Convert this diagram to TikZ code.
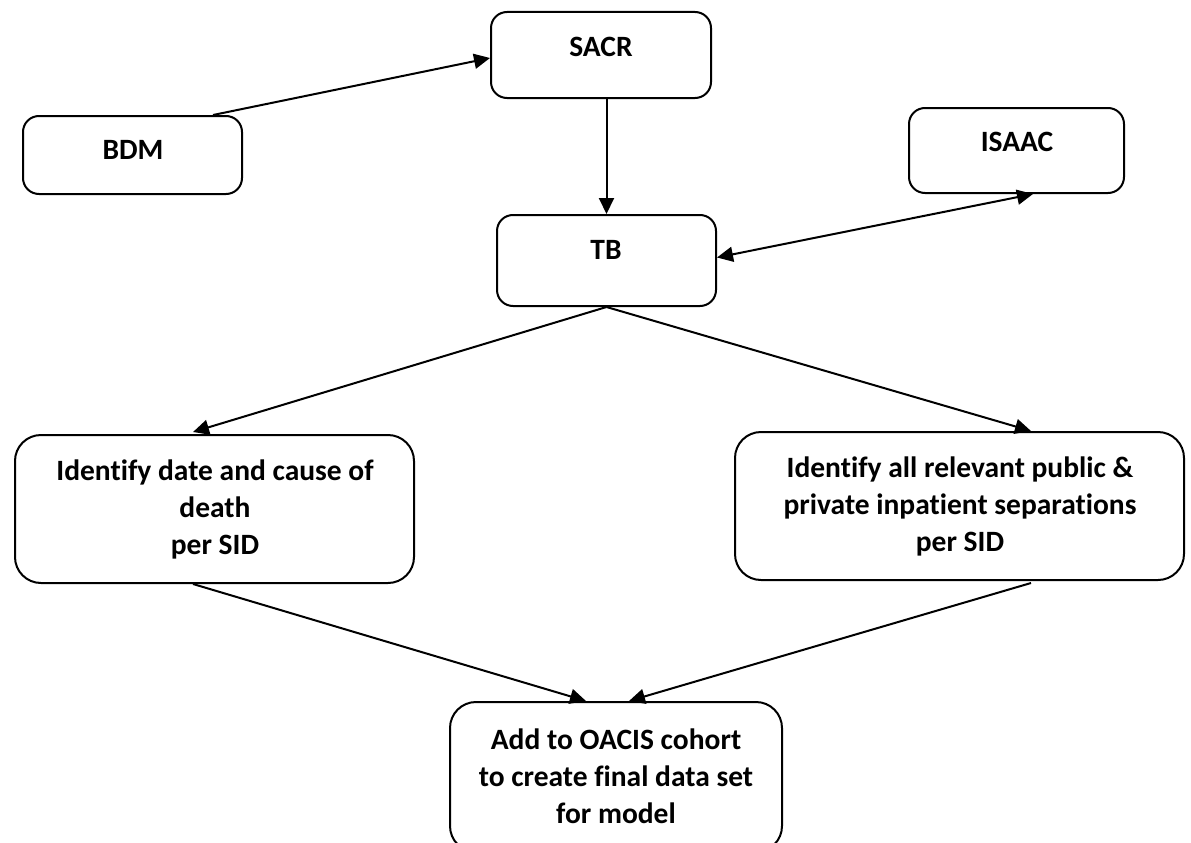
\documentclass[tikz,border=0pt]{standalone}
\usepackage{fontspec}
\setmainfont{Carlito}[Ligatures=NoCommon]
\usetikzlibrary{arrows.meta,calc}
\tikzset{
  box/.style={draw=black, line width=2pt, rounded corners=16pt, fill=none, inner sep=0pt},
  bigbox/.style={box, rounded corners=26pt},
  lbl/.style={font=\fontsize{29.5}{37}\selectfont\bfseries, align=center, inner sep=0pt},
  arr/.style={line width=2pt, -{Triangle[length=16pt,width=15pt]}},
  darr/.style={line width=2pt, {Triangle[length=16pt,width=15pt]}-{Triangle[length=16pt,width=15pt]}}
}
\begin{document}
\begin{tikzpicture}[x=1pt,y=-1pt]
\useasboundingbox (0,0) rectangle (1191,843);
% boxes
\node[box, minimum width=220pt, minimum height=86pt] (sacr) at (601,55) {};
\node[box, minimum width=219pt, minimum height=78pt] (bdm) at (132.5,155) {};
\node[box, minimum width=215pt, minimum height=85pt] (isaac) at (1016.5,150.5) {};
\node[box, minimum width=219pt, minimum height=91pt] (tb) at (606.5,260.5) {};
\node[bigbox, minimum width=399pt, minimum height=148pt] (left) at (214.5,509) {};
\node[bigbox, minimum width=449pt, minimum height=148pt] (right) at (959.5,506) {};
\node[bigbox, minimum width=332pt, minimum height=150pt] (bottom) at (616,777) {};
% labels
\node[lbl] (tsacr) at (601,47) {SACR};
\node[lbl] (tbdm) at (133,150) {BDM};
\node[lbl] (tisaac) at (1017,142) {ISAAC};
\node[lbl] (ttb) at (606,250) {TB};
\node[lbl] (tleft) at (215,509) {Identify date and cause of\\death\\per SID};
\node[lbl] (tright) at (960,506) {Identify all relevant public \&\\private inpatient separations\\per SID};
\node[lbl] (tbottom) at (616,776) {Add to OACIS cohort\\to create final data set\\for model};
% connectors
\draw[arr] ($(bdm.north)+(80.5,0)$) -- ($(sacr.west)+(0,3)$);
\draw[arr] (sacr.south -| tb.north) -- (tb.north);
\draw[darr] ($(tb.east)+(0,-3)$) -- ($(isaac.south)+(16.5,0)$);
\draw[arr] (tb.south) -- ($(left.north)+(-21.5,-2)$);
\draw[arr] (tb.south) -- ($(right.north)+(71.5,0)$);
\draw[arr] ($(left.south)+(-21.5,0)$) -- ($(bottom.north)+(-30,0)$);
\draw[arr] ($(right.south)+(71.5,2)$) -- ($(bottom.north)+(13,0)$);
\end{tikzpicture}
\end{document}
